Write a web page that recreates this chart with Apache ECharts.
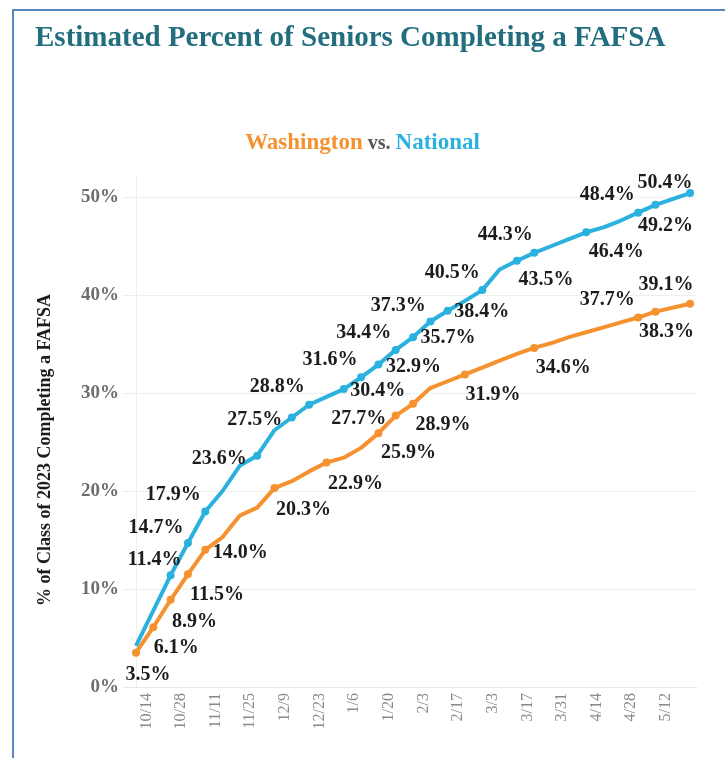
<!DOCTYPE html>
<html>
<head>
<meta charset="utf-8">
<title>Estimated Percent of Seniors Completing a FAFSA</title>
<script src="https://cdn.jsdelivr.net/npm/echarts@6/dist/echarts.min.js"></script>
<style>
html, body { margin: 0; padding: 0; background: #fff; }
#chart { width: 725px; height: 758px; }
</style>
</head>
<body>
<div id="chart"></div>
<script>
// weekly report dates, every other one is printed on the axis
var weeks = ['10/14', '10/21', '10/28', '11/4', '11/11', '11/18', '11/25', '12/2', '12/9', '12/16',
	'12/23', '12/30', '1/6', '1/13', '1/20', '1/27', '2/3', '2/10', '2/17', '2/24',
	'3/3', '3/10', '3/17', '3/24', '3/31', '4/7', '4/14', '4/21', '4/28', '5/5',
	'5/12', '5/19', '5/26'];
var axisWeeks = [0, 2, 4, 6, 8, 10, 12, 14, 16, 18, 20, 22, 24, 26, 28, 30];
// % of class of 2023 completing a FAFSA
var washington = [3.5, 6.1, 8.9, 11.5, 14.0, 15.3, 17.5, 18.3, 20.3, 21.0,
	22.0, 22.9, 23.4, 24.4, 25.9, 27.7, 28.9, 30.5, 31.2, 31.9,
	32.6, 33.3, 34.0, 34.6, 35.1, 35.7, 36.2, 36.7, 37.2, 37.7,
	38.3, null, 39.1];
var national = [4.2, 7.8, 11.4, 14.7, 17.9, 20.0, 22.6, 23.6, 26.2, 27.5,
	28.8, 29.6, 30.4, 31.6, 32.9, 34.4, 35.7, 37.3, 38.4, 39.4,
	40.5, 42.6, 43.5, 44.3, 45.0, 45.7, 46.4, 46.9, 47.6, 48.4,
	49.2, null, 50.4];
var yTicks = [0, 10, 20, 30, 40, 50];

// where each printed value sits relative to its point (px)
var waLabelPos = {
	0: [12, 22], 1: [23, 21], 2: [24, 22], 3: [29, 21], 4: [35, 3], 8: [29, 22],
	11: [29, 21], 14: [30, 20], 15: [-37, 3], 16: [30, 21], 19: [28, 20], 23: [29, 20],
	29: [-31, -18], 30: [11, 20], 32: [-24, -19]
};
var natLabelPos = {
	2: [-16, -15], 3: [-32, -15], 4: [-32, -17], 7: [-38, 3], 9: [-37, 2], 10: [-32, -18],
	12: [34, 2], 13: [-31, -17], 14: [35, 2], 15: [-32, -17], 16: [35, 1], 17: [-32, -16],
	18: [34, 1], 20: [-30, -17], 22: [29, 19], 23: [-29, -18], 26: [30, 20], 29: [-31, -18],
	30: [10, 21], 32: [-25, -10]
};

var orange = '#f5922f';
var blue = '#2bb1de';
var serif = '"Liberation Serif", "Times New Roman", serif';
var labelShift = 0.6;

function buildData(values, labelPos) {
	var out = [];
	for (var i = 0; i < values.length; i++) {
		if (values[i] == null) continue;
		var pos = labelPos[i];
		out.push({
			value: [i, values[i]],
			symbol: pos ? 'circle' : 'none',
			label: pos ? { show: true, offset: pos } : { show: false }
		});
	}
	return out;
}

function lineSeries(name, color, values, labelPos) {
	return {
		name: name,
		type: 'line',
		data: buildData(values, labelPos),
		symbolSize: 8,
		lineStyle: { width: 4, color: color },
		itemStyle: { color: color },
		label: {
			position: 'inside',
			formatter: function(p) {
				return p.value[1].toFixed(1) + '%';
			},
			fontFamily: serif,
			fontWeight: 'bold',
			fontSize: 20,
			color: '#1c1c1c'
		},
		emphasis: { disabled: true },
		z: name == 'National' ? 3 : 2
	};
}

var option = {
	animation: false,
	title: [{
		text: 'Estimated Percent of Seniors Completing a FAFSA',
		left: 30,
		top: 19,
		textStyle: {
			fontFamily: serif,
			fontWeight: 'bold',
			fontSize: 29,
			color: '#226e7e'
		}
	}, {
		text: '{w|Washington} {v|vs.} {n|National}',
		left: 'center',
		top: 127,
		textStyle: {
			rich: {
				w: { fontFamily: serif, fontWeight: 'bold', fontSize: 23, color: orange },
				v: { fontFamily: serif, fontSize: 20, color: '#555555' },
				n: { fontFamily: serif, fontWeight: 'bold', fontSize: 23, color: blue }
			}
		}
	}],
	graphic: [{
		type: 'rect',
		shape: { x: 13, y: 10, width: 800, height: 800 },
		style: { fill: 'none', stroke: '#5a85c3', lineWidth: 2 },
		silent: true
	}, {
		type: 'text',
		x: 45,
		y: 450,
		rotation: Math.PI / 2,
		style: {
			text: '% of Class of 2023 Completing a FAFSA',
			font: 'bold 18px ' + serif,
			fill: '#1c1c1c',
			align: 'center',
			verticalAlign: 'middle'
		},
		silent: true
	}],
	grid: {
		left: 123,
		right: 28,
		top: 177.4,
		bottom: 71
	},
	xAxis: {
		type: 'value',
		min: -0.75,
		max: 32.4,
		splitLine: { show: false },
		axisTick: { show: false },
		axisLine: { show: true, lineStyle: { color: '#e8e8e8', width: 1 } },
		axisLabel: {
			customValues: axisWeeks.map(function(w) { return w + labelShift; }),
			formatter: function(v) {
				return weeks[Math.round(v - labelShift)];
			},
			rotate: 90,
			margin: 6,
			fontFamily: serif,
			fontSize: 16,
			color: '#8a8a8a'
		}
	},
	yAxis: {
		type: 'value',
		min: 0,
		max: 52,
		interval: 10,
		axisLine: { show: true, lineStyle: { color: '#f0f0f0' } },
		axisTick: { show: false },
		splitLine: {
			lineStyle: { color: ['#eeeeee', '#eeeeee', '#eeeeee', '#eeeeee', '#eeeeee', '#eeeeee', 'rgba(0,0,0,0)'] }
		},
		axisLabel: {
			showMaxLabel: false,
			formatter: function(v) {
				return yTicks.indexOf(v) > -1 ? v + '%' : '';
			},
			margin: 4,
			fontFamily: serif,
			fontWeight: 'bold',
			fontSize: 19,
			color: '#6e6e6e'
		}
	},
	series: [
		lineSeries('Washington', orange, washington, waLabelPos),
		lineSeries('National', blue, national, natLabelPos)
	]
};

var chart = echarts.init(document.getElementById('chart'));
chart.setOption(option);
</script>
</body>
</html>
